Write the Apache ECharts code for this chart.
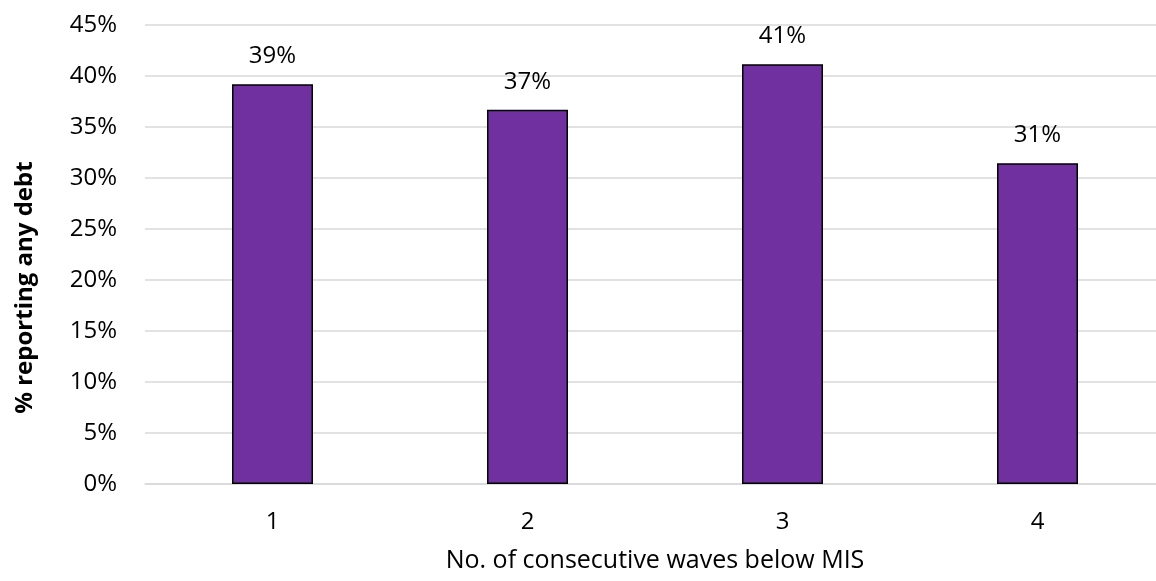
<!DOCTYPE html>
<html>
<head>
<meta charset="utf-8">
<script src="https://cdn.jsdelivr.net/npm/echarts@6/dist/echarts.min.js"></script>
<style>
  html, body { margin: 0; padding: 0; background: #ffffff; overflow: hidden; width: 1156px; height: 581px; }
  /* the plot area extends a little beyond the visible page on the right */
  #chart { width: 1170px; height: 581px; }
</style>
</head>
<body>
<div id="chart"></div>
<script>
// Consecutive waves below MIS and share reporting any debt (%)
const categories = ['1', '2', '3', '4'];
const debtShare = [39.2, 36.7, 41.15, 31.45];
const yTicks = [0, 5, 10, 15, 20, 25, 30, 35, 40, 45];

const fontFamily = "'Open Sans', 'Liberation Sans', sans-serif";

const chart = echarts.init(document.getElementById('chart'), null, { renderer: 'canvas' });
chart.setOption({
  animation: false,
  textStyle: { fontFamily: fontFamily },
  grid: { left: 145, right: 5, top: 25, bottom: 97, containLabel: false },
  xAxis: {
    type: 'category',
    data: categories,
    name: 'No. of consecutive waves below MIS',
    nameLocation: 'middle',
    nameGap: 64,
    nameTextStyle: { fontSize: 25, color: '#000', fontFamily: fontFamily },
    axisLine: { show: true, lineStyle: { color: '#d9d9d9', width: 1.5 } },
    axisTick: { show: false },
    axisLabel: { fontSize: 24, color: '#000', margin: 26, fontFamily: fontFamily }
  },
  yAxis: {
    type: 'value',
    min: yTicks[0],
    max: yTicks[yTicks.length - 1],
    interval: 5,
    name: '% reporting any debt',
    nameLocation: 'middle',
    nameGap: 108,
    // right padding nudges the rotated title toward the bottom of the axis
    nameTextStyle: { fontSize: 24, fontWeight: 'bold', color: '#000', fontFamily: fontFamily, padding: [0, 66, 0, 0] },
    axisLine: { show: false },
    axisTick: { show: false },
    axisLabel: { fontSize: 24, color: '#000', margin: 28, formatter: v => v + '%', fontFamily: fontFamily },
    splitLine: { show: true, lineStyle: { color: '#d9d9d9', width: 1.5 } }
  },
  series: [{
    type: 'bar',
    data: debtShare,
    barWidth: 81,
    itemStyle: { color: '#7030A0', borderColor: '#000', borderWidth: 1.5 },
    label: {
      show: true,
      position: 'top',
      distance: 16,
      fontSize: 24,
      color: '#000',
      fontFamily: fontFamily,
      formatter: p => Math.round(p.value) + '%'
    }
  }]
});
</script>
</body>
</html>
